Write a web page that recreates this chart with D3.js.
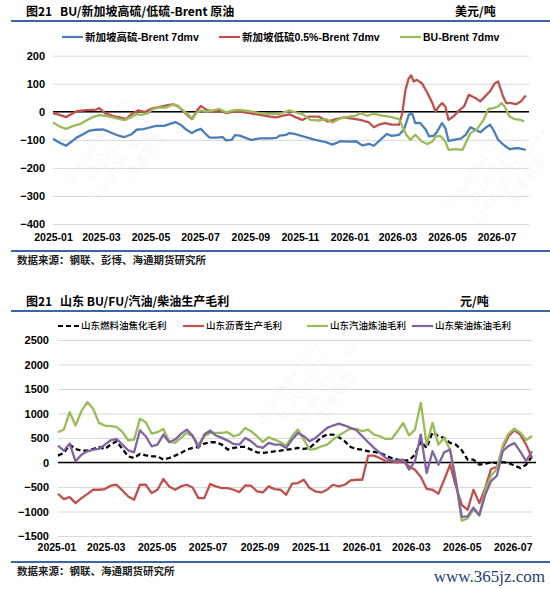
<!DOCTYPE html>
<html>
<head>
<meta charset="utf-8">
<script src="https://cdn.jsdelivr.net/npm/d3@7"></script>
<style>
    body { margin: 0; background: #fff; }
    svg { display: block; }
</style>
</head>
<body>
<div id="chart"></div>
<script>
// ---------- chart 1: BU / Singapore HSFO / LSFO minus Brent (USD/t, 7dmv) ----------
const spreadTicks = [200, 100, 0, -100, -200, -300, -400];

const hsfoBrent = [
    ["2025-01-01",-96],["2025-01-09",-110],["2025-01-17",-121],["2025-01-24",-106],["2025-01-30",-92],
    ["2025-02-07",-80],["2025-02-15",-67],["2025-02-23",-64],["2025-03-04",-63],["2025-03-10",-70],
    ["2025-03-18",-80],["2025-03-26",-88],["2025-03-30",-90],["2025-04-07",-81],["2025-04-14",-64],
    ["2025-04-22",-62],["2025-04-30",-56],["2025-05-08",-50],["2025-05-18",-50],["2025-05-24",-44],
    ["2025-06-01",-37],["2025-06-07",-46],["2025-06-13",-61],["2025-06-21",-76],["2025-06-26",-67],
    ["2025-07-02",-61],["2025-07-09",-82],["2025-07-13",-92],["2025-07-21",-92],["2025-07-29",-90],
    ["2025-08-02",-102],["2025-08-09",-100],["2025-08-13",-83],["2025-08-19",-85],["2025-08-27",-94],
    ["2025-09-02",-100],["2025-09-13",-95],["2025-09-25",-95],["2025-10-03",-93],["2025-10-07",-85],
    ["2025-10-15",-82],["2025-10-19",-76],["2025-10-27",-80],["2025-11-08",-90],["2025-11-20",-100],
    ["2025-12-03",-108],["2025-12-11",-117],["2025-12-21",-105],["2026-01-01",-106],["2026-01-09",-105],
    ["2026-01-17",-120],["2026-01-25",-114],["2026-01-31",-121],["2026-02-08",-100],["2026-02-16",-79],
    ["2026-02-22",-86],["2026-03-03",-82],["2026-03-09",-64],["2026-03-15",-11],["2026-03-19",-5],
    ["2026-03-23",-40],["2026-03-29",-40],["2026-04-05",-64],["2026-04-09",-88],["2026-04-15",-85],
    ["2026-04-19",-70],["2026-04-25",-40],["2026-04-29",-58],["2026-05-03",-104],["2026-05-12",-98],
    ["2026-05-18",-96],["2026-05-24",-82],["2026-05-30",-55],["2026-06-05",-64],["2026-06-11",-73],
    ["2026-06-17",-58],["2026-06-23",-46],["2026-06-27",-64],["2026-07-03",-100],["2026-07-11",-121],
    ["2026-07-17",-133],["2026-07-23",-130],["2026-07-29",-130],["2026-08-06",-136]
];

const lsfoBrent = [
    ["2025-01-01",-5],["2025-01-09",-11],["2025-01-17",-19],["2025-01-24",-8],["2025-01-30",2],
    ["2025-02-11",6],["2025-02-23",8],["2025-02-27",13],["2025-03-06",-5],["2025-03-16",-15],
    ["2025-03-24",-20],["2025-04-01",-26],["2025-04-09",-5],["2025-04-16",5],["2025-04-24",-1],
    ["2025-05-02",11],["2025-05-08",15],["2025-05-16",19],["2025-05-24",25],["2025-05-30",26],
    ["2025-06-05",17],["2025-06-13",-5],["2025-06-21",-26],["2025-06-28",7],["2025-07-02",21],
    ["2025-07-09",7],["2025-07-17",1],["2025-07-25",5],["2025-08-02",-5],["2025-08-11",1],
    ["2025-08-19",1],["2025-08-31",-5],["2025-09-13",-11],["2025-09-25",-17],["2025-10-03",-20],
    ["2025-10-11",-14],["2025-10-19",-9],["2025-10-27",-20],["2025-11-04",-29],["2025-11-12",-17],
    ["2025-11-24",-17],["2025-12-05",-35],["2025-12-15",-26],["2025-12-25",-20],["2026-01-09",-26],
    ["2026-01-17",-31],["2026-01-25",-38],["2026-01-31",-55],["2026-02-06",-46],["2026-02-14",-40],
    ["2026-02-22",-46],["2026-03-03",-46],["2026-03-07",-5],["2026-03-11",79],["2026-03-15",120],
    ["2026-03-18",130],["2026-03-21",108],["2026-03-25",114],["2026-03-31",102],["2026-04-07",67],
    ["2026-04-13",31],["2026-04-17",1],["2026-04-21",19],["2026-04-25",31],["2026-04-29",19],
    ["2026-05-03",-29],["2026-05-10",-14],["2026-05-16",5],["2026-05-22",19],["2026-05-28",61],
    ["2026-06-05",49],["2026-06-11",37],["2026-06-17",55],["2026-06-23",73],["2026-06-29",102],
    ["2026-07-03",108],["2026-07-09",55],["2026-07-13",31],["2026-07-19",31],["2026-07-25",27],
    ["2026-07-31",37],["2026-08-06",58]
];

const buBrent = [
    ["2025-01-01",-38],["2025-01-09",-52],["2025-01-17",-61],["2025-01-26",-50],["2025-02-03",-44],
    ["2025-02-11",-31],["2025-02-19",-19],["2025-02-27",-12],["2025-03-08",-15],["2025-03-16",-20],
    ["2025-03-24",-26],["2025-03-30",-30],["2025-04-07",-19],["2025-04-14",-8],["2025-04-20",-11],
    ["2025-04-28",-5],["2025-05-04",10],["2025-05-12",15],["2025-05-20",15],["2025-05-28",25],
    ["2025-06-03",23],["2025-06-09",7],["2025-06-17",-11],["2025-06-22",-26],["2025-06-26",-5],
    ["2025-07-02",5],["2025-07-09",1],["2025-07-17",5],["2025-07-25",10],["2025-08-02",-2],
    ["2025-08-11",5],["2025-08-19",7],["2025-08-31",2],["2025-09-13",-5],["2025-09-25",-8],
    ["2025-10-07",-7],["2025-10-19",5],["2025-10-27",-2],["2025-11-04",-8],["2025-11-14",-29],
    ["2025-11-24",-31],["2025-12-03",-26],["2025-12-11",-38],["2025-12-21",-23],["2026-01-01",-17],
    ["2026-01-09",-14],["2026-01-14",-5],["2026-01-23",-14],["2026-01-31",-7],["2026-02-10",-14],
    ["2026-02-22",-19],["2026-03-03",-26],["2026-03-07",-52],["2026-03-12",-82],["2026-03-17",-100],
    ["2026-03-23",-82],["2026-03-31",-106],["2026-04-07",-115],["2026-04-13",-106],["2026-04-17",-88],
    ["2026-04-23",-86],["2026-04-29",-106],["2026-05-03",-136],["2026-05-12",-133],["2026-05-20",-136],
    ["2026-05-26",-100],["2026-05-30",-76],["2026-06-07",-62],["2026-06-15",-29],["2026-06-21",10],
    ["2026-06-27",13],["2026-07-03",19],["2026-07-07",31],["2026-07-11",19],["2026-07-17",-17],
    ["2026-07-23",-26],["2026-07-31",-29],["2026-08-04",-35]
];

// ---------- chart 2: Shandong production margins (CNY/t, weekly) ----------
const marginTicks = [2500, 2000, 1500, 1000, 500, 0, -500, -1000, -1500];

const fuelCoking = [
    140, 195, 365, 276, 242, 242, 276, 317, 276, 365, 433, 276, 126, 92, 174, 147, 126, 126, 58, 92,
    140, 195, 263, 297, 317, 386, 413, 413, 365, 263, 297, 317, 317, 263, 208, 195, 208, 229, 242, 263,
    276, 297, 276, 297, 399, 515, 570, 570, 515, 433, 317, 276, 263, 229, 215, 195, 140, 92, 58, 44,
    44, 160, 433, 297, 618, 536, 502, 399, 365, 249, 58, 58, -44, -24, 3, -10, 10, -10, -65, -113,
    -44, 126
];
const bitumen = [
    -638, -747, -706, -829, -727, -645, -556, -556, -543, -474, -454, -570, -693, -761, -454, -454, -625, -556, -338, -488,
    -556, -488, -454, -509, -727, -727, -440, -488, -522, -522, -556, -604, -468, -474, -590, -611, -488, -543, -556, -659,
    -433, -420, -352, -522, -590, -611, -556, -454, -488, -454, -365, -352, -352, 140, 140, 92, 24, 24, 3, 24,
    -78, -147, -297, -536, -556, -638, -352, -44, -488, -864, -966, -556, -829, -522, -133, -92, 297, 536, 659, 570,
    365, 92
];
const gasoline = [
    617, 672, 1027, 754, 1048, 1232, 1096, 809, 754, 741, 727, 625, 454, 468, 891, 822, 591, 618, 686, 433,
    399, 502, 604, 536, 365, 536, 604, 604, 604, 618, 536, 570, 706, 638, 536, 420, 515, 468, 413, 345,
    536, 672, 468, 263, 276, 331, 365, 468, 550, 625, 693, 686, 638, 672, 570, 536, 481, 481, 638, 809,
    550, 672, 1218, 365, 809, 365, 502, 263, -350, -1190, -1140, -960, -1080, -560, -270, -130, 350, 585, 690, 610,
    460, 540
];
const diesel = [
    345, 242, 386, 24, 160, 229, 263, 276, 365, 454, 481, 365, 249, 208, 659, 536, 331, 365, 570, 413,
    468, 584, 672, 550, 297, 570, 652, 550, 502, 447, 379, 365, 502, 433, 331, 297, 399, 365, 365, 297,
    468, 604, 536, 433, 502, 604, 706, 754, 795, 754, 706, 659, 536, 413, 297, 195, 92, 38, 38, 58,
    -147, 24, 570, -215, 229, -44, 208, 263, -400, -1110, -1100, -920, -1075, -660, -380, -270, 230, 340, 395, 220,
    30, 230
];

// weekly observation dates (Fridays) and two-monthly axis labels
const weeks = d3.timeFriday.range(new Date(2025, 0, 3), new Date(2026, 6, 25));
const axisMonths = d3.timeMonth.every(2).range(new Date(2025, 0, 1), new Date(2026, 7, 1));

const parseDay = d3.timeParse("%Y-%m-%d");
const cjk = "'Noto Sans CJK SC', sans-serif";
const latin = "'Liberation Sans', Arial, 'Noto Sans CJK SC', sans-serif";
const colors = {blue: "#4a7ebb", red: "#c0504d", green: "#9bbb59", purple: "#8064a2", rule: "#3a66a8", grid: "#d9d9d9"};

const svg = d3.select("#chart")
    .append("svg")
    .attr("width", 550)
    .attr("height", 589);

function drawHeader(top, title, unit, unitX) {
    svg.append("text")
        .attr("x", 26).attr("y", top)
        .attr("font-family", cjk).attr("font-size", "12px").attr("font-weight", 700)
        .text("图21");
    svg.append("text")
        .attr("x", 60).attr("y", top)
        .attr("font-family", cjk).attr("font-size", "12px").attr("font-weight", 700)
        .text(title);
    svg.append("text")
        .attr("x", unitX).attr("y", top)
        .attr("font-family", cjk).attr("font-size", "12px").attr("font-weight", 700)
        .text(unit);
    svg.append("line")
        .attr("x1", 11).attr("x2", 550)
        .attr("y1", top + 5).attr("y2", top + 5)
        .attr("stroke", colors.rule).attr("stroke-width", 2);
}

function drawFooter(y, source) {
    svg.append("line")
        .attr("x1", 11).attr("x2", 550)
        .attr("y1", y).attr("y2", y)
        .attr("stroke", colors.rule).attr("stroke-width", 2);
    svg.append("text")
        .attr("x", 17).attr("y", y + 13)
        .attr("font-family", cjk).attr("font-size", "10.5px").attr("font-weight", 700)
        .attr("fill", "#222")
        .text(source);
}

function drawLegend(y, items, fontSize, weight) {
    const legend = svg.selectAll(null)
        .data(items)
        .enter().append("g")
            .attr("transform", d => `translate(${d.x},${y})`);

    legend.append("line")
        .attr("x1", 0).attr("x2", 21)
        .attr("stroke", d => d.color)
        .attr("stroke-width", 2.2)
        .attr("stroke-dasharray", d => d.dash || null);

    legend.append("text")
        .attr("x", 23)
        .attr("dy", "0.35em")
        .attr("font-family", latin)
        .attr("font-size", fontSize)
        .attr("font-weight", weight)
        .text(d => d.label);
}

function drawPanel(cfg) {
    const x = d3.scaleTime().domain(cfg.xDomain).range(cfg.xRange);
    const y = d3.scaleLinear().domain(d3.extent(cfg.ticks)).range(cfg.yRange);
    const plotWidth = cfg.xRange[1] - cfg.xRange[0];

    // Y-axis with grid lines
    svg.append("g")
        .attr("transform", `translate(${cfg.xRange[0]},0)`)
        .call(d3.axisLeft(y).tickValues(cfg.ticks).tickSize(-plotWidth).tickPadding(cfg.yPad).tickFormat(d3.format("d")))
        .call(g => g.select(".domain").remove())
        .call(g => g.selectAll(".tick line").attr("stroke", colors.grid))
        .call(g => g.selectAll(".tick text")
            .attr("font-family", latin).attr("font-size", "11px").attr("font-weight", 700).attr("fill", "#000"));

    // X-axis labels only
    svg.append("g")
        .attr("transform", `translate(0,${cfg.yRange[0]})`)
        .call(d3.axisBottom(x).tickValues(axisMonths).tickSize(0).tickPadding(cfg.xPad).tickFormat(d3.timeFormat("%Y-%m")))
        .call(g => g.select(".domain").remove())
        .call(g => g.selectAll(".tick text")
            .attr("font-family", latin).attr("font-size", "10.5px").attr("font-weight", 700).attr("fill", "#000"));

    // zero line
    svg.append("line")
        .attr("x1", cfg.xRange[0]).attr("x2", cfg.xRange[1] + cfg.zeroExtra)
        .attr("y1", y(0)).attr("y2", y(0))
        .attr("stroke", "#000").attr("stroke-width", 1.6);

    const line = d3.line()
        .x(d => x(d.date))
        .y(d => y(d.value));

    cfg.series.forEach(s => {
        svg.append("path")
            .datum(s.points)
            .attr("fill", "none")
            .attr("stroke", s.color)
            .attr("stroke-width", 2.3)
            .attr("stroke-linejoin", "round")
            .attr("stroke-dasharray", s.dash || null)
            .attr("d", line);
    });
}

function addWatermark(cx, cy) {
    const wm = svg.append("g")
        .attr("transform", `translate(${cx},${cy}) rotate(-55)`)
        .attr("fill", "#000").attr("fill-opacity", 0.05)
        .attr("font-family", "'Liberation Serif', serif").attr("font-size", "14px");
    ["2026/08/04 16:39", "10.219.142.14", "F4-6B-8C-82-52-A4", "海通期货"].forEach((t, i) => {
        wm.append("text").attr("x", i * 6).attr("y", i * 16).attr("text-anchor", "middle").text(t);
    });
}

// ---------- chart 1 ----------
drawHeader(16, "BU/新加坡高硫/低硫-Brent 原油", "美元/吨", 455);
drawLegend(37, [
    {label: "新加坡高硫-Brent 7dmv", color: colors.blue, x: 62},
    {label: "新加坡低硫0.5%-Brent 7dmv", color: colors.red, x: 219},
    {label: "BU-Brent 7dmv", color: colors.green, x: 400}
], "10.5px", 700);

const toPoints = arr => arr.map(d => ({date: parseDay(d[0]), value: d[1]}));

drawPanel({
    xDomain: [new Date(2025, 0, 1), new Date(2026, 7, 10)],
    xRange: [53, 529],
    yRange: [224, 55.7],
    ticks: spreadTicks,
    yPad: 8,
    xPad: 10,
    zeroExtra: 0,
    series: [
        {points: toPoints(hsfoBrent), color: colors.blue},
        {points: toPoints(lsfoBrent), color: colors.red},
        {points: toPoints(buBrent), color: colors.green}
    ]
});
drawFooter(251, "数据来源：钢联、彭博、海通期货研究所");

// ---------- chart 2 ----------
drawHeader(306, "山东 BU/FU/汽油/柴油生产毛利", "元/吨", 460);
drawLegend(326, [
    {label: "山东燃料油焦化毛利", color: "#000", x: 58, dash: "5,3"},
    {label: "山东沥青生产毛利", color: colors.red, x: 183},
    {label: "山东汽油炼油毛利", color: colors.green, x: 307},
    {label: "山东柴油炼油毛利", color: colors.purple, x: 412}
], "9.5px", 500);

const weekly = arr => arr.map((v, i) => ({date: weeks[i], value: v}));

drawPanel({
    xDomain: [new Date(2025, 0, 3), new Date(2026, 6, 24)],
    xRange: [58, 532],
    yRange: [536, 340],
    ticks: marginTicks,
    yPad: 9,
    xPad: 8,
    zeroExtra: 4,
    series: [
        {points: weekly(fuelCoking), color: "#000", dash: "5,3"},
        {points: weekly(bitumen), color: colors.red},
        {points: weekly(gasoline), color: colors.green},
        {points: weekly(diesel), color: colors.purple}
    ]
});
drawFooter(562, "数据来源：钢联、海通期货研究所");

svg.append("text")
    .attr("x", 545).attr("y", 582)
    .attr("text-anchor", "end")
    .attr("font-family", "'Liberation Serif', 'DejaVu Serif', serif")
    .attr("font-size", "17px")
    .attr("fill", "#1d3f73")
    .text("www.365jz.com");

// faint viewer watermarks
addWatermark(100, 145);
addWatermark(480, 170);
addWatermark(290, 385);
</script>
</body>
</html>
